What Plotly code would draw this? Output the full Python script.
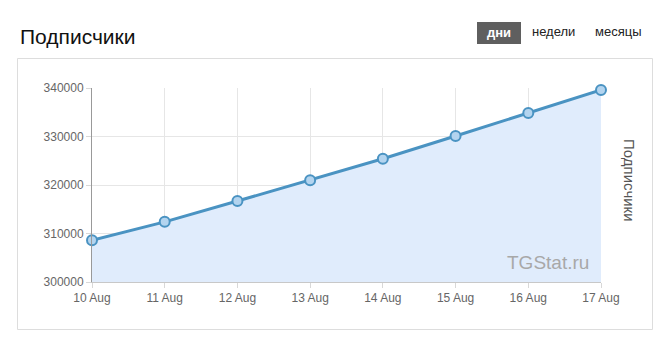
import plotly.graph_objects as go

# Subscriber counts per day
dates = ["10 Aug", "11 Aug", "12 Aug", "13 Aug", "14 Aug", "15 Aug", "16 Aug", "17 Aug"]
subscribers = [308600, 312400, 316700, 321000, 325400, 330100, 334850, 339600]
y_ticks = [300000, 310000, 320000, 330000, 340000]

title_text = "Подписчики"
axis_title = "Подписчики"
periods = ["дни", "недели", "месяцы"]
watermark = "TGStat.ru"

FONT = "Liberation Sans, Arial, sans-serif"
LINE = "#4a93c2"

fig = go.Figure()
fig.add_trace(go.Scatter(
    x=list(range(len(dates))),
    y=subscribers,
    mode="lines+markers",
    line=dict(color=LINE, width=3),
    marker=dict(size=10, color="#b3d4ef", line=dict(color=LINE, width=2)),
    fill="tozeroy",
    fillcolor="#e0ecfc",
    cliponaxis=False,
    hoverinfo="skip",
))

fig.update_layout(
    width=665, height=346,
    margin=dict(l=92, r=64, t=88, b=64),
    paper_bgcolor="white", plot_bgcolor="white",
    showlegend=False,
    font=dict(family=FONT, size=12, color="#666"),
    xaxis=dict(
        range=[0, len(dates) - 1],
        tickvals=list(range(len(dates))), ticktext=dates,
        showgrid=True, gridcolor="#e6e6e6", gridwidth=1,
        showline=True, linecolor="#c8c8c8", linewidth=1,
        ticks="outside", ticklen=5, tickcolor="#d8d8d8",
        tickfont=dict(size=12, color="#666"), zeroline=False,
    ),
    yaxis=dict(
        range=[300000, 340000],
        tickvals=y_ticks, ticktext=[str(v) for v in y_ticks],
        showgrid=True, gridcolor="#e6e6e6", gridwidth=1,
        showline=True, linecolor="#999", linewidth=1,
        ticks="outside", ticklen=5, tickcolor="#d8d8d8",
        tickfont=dict(size=12, color="#666"), zeroline=False,
    ),
)

# Panel border
fig.add_shape(type="rect", xref="paper", yref="paper",
              x0=(17.5 - 92) / 509, x1=(652.5 - 92) / 509,
              y0=(282 - 329.5) / 194, y1=(282 - 58.5) / 194,
              line=dict(color="#dddddd", width=1), fillcolor="rgba(0,0,0,0)", layer="below")

# Active period button background
fig.add_shape(type="rect", xref="paper", yref="paper",
              x0=(477 - 92) / 509, x1=(521 - 92) / 509,
              y0=(282 - 44) / 194, y1=(282 - 22) / 194,
              line=dict(width=0), fillcolor="#5f5f5f")

annotations = [
    dict(text=title_text, x=18, y=36, font=dict(size=21, color="#111", family=FONT), xanchor="left"),
    dict(text="<b>" + periods[0] + "</b>", x=499, y=33, font=dict(size=13, color="white", family=FONT), xanchor="center"),
    dict(text=periods[1], x=553, y=32, font=dict(size=13, color="#222", family=FONT), xanchor="center"),
    dict(text=periods[2], x=618, y=32, font=dict(size=13, color="#222", family=FONT), xanchor="center"),
]
for a in annotations:
    fig.add_annotation(
        text=a["text"], xref="paper", yref="paper",
        x=(a["x"] - 92) / 509, y=(282 - a["y"]) / 194,
        xanchor=a["xanchor"], yanchor="middle", showarrow=False, font=a["font"],
    )

# Right-hand axis title
fig.add_annotation(text=axis_title, xref="paper", yref="paper",
                   x=(630 - 92) / 509, y=(282 - 180) / 194, textangle=90,
                   showarrow=False, font=dict(size=15, color="#555", family=FONT),
                   xanchor="center", yanchor="middle")

# Watermark
fig.add_annotation(text=watermark, xref="paper", yref="paper",
                   x=(591 - 92) / 509, y=(282 - 262) / 194,
                   showarrow=False, font=dict(size=19, color="#a8a8a8", family=FONT),
                   xanchor="right", yanchor="middle")

fig.write_html("out.html")
